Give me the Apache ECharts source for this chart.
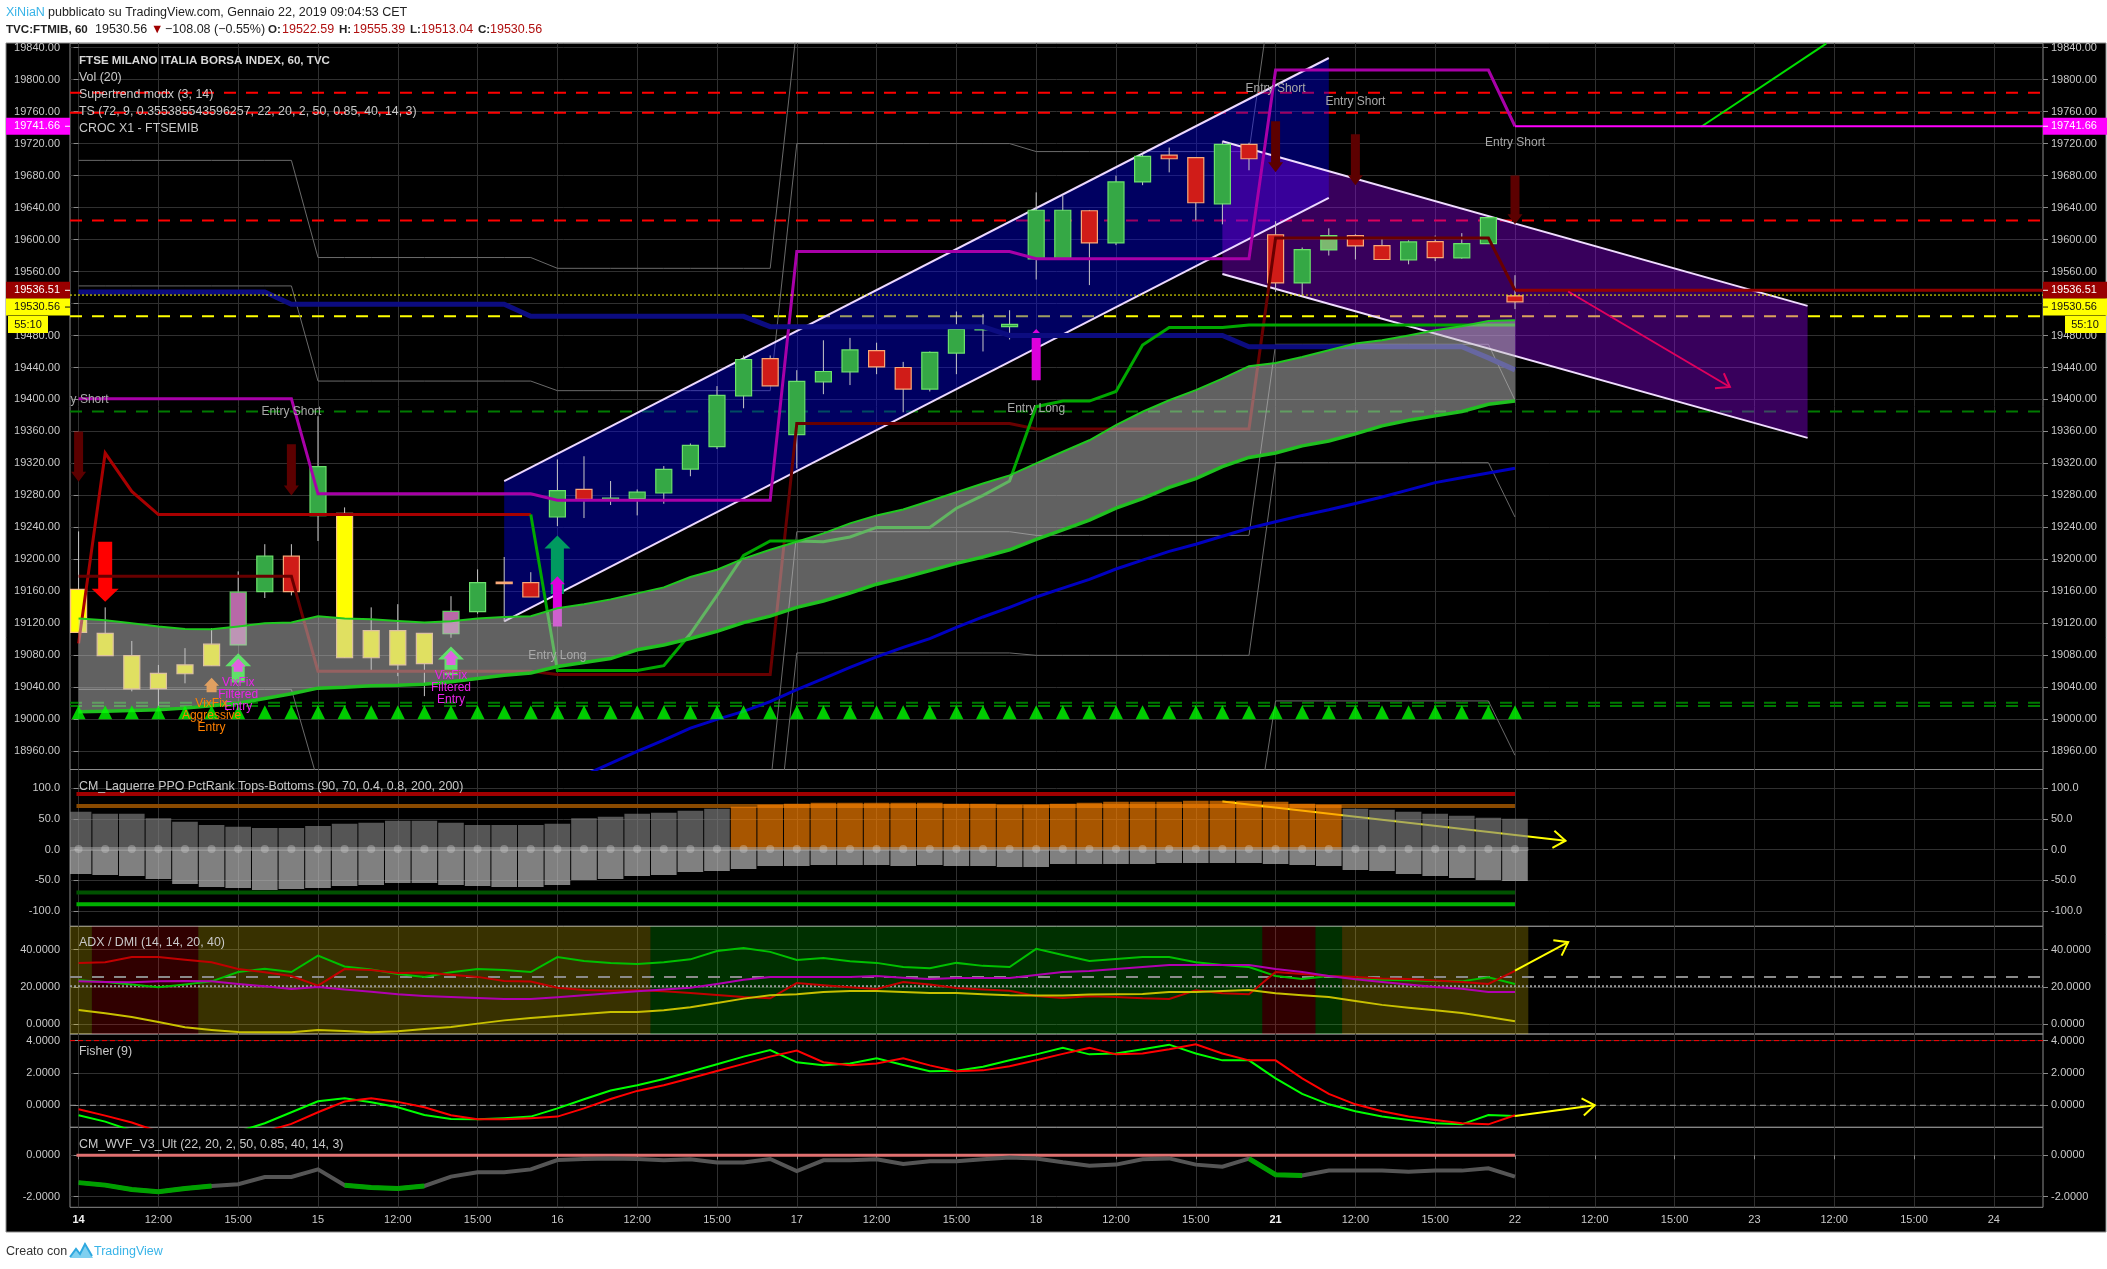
<!DOCTYPE html>
<html><head><meta charset="utf-8">
<style>html,body{margin:0;padding:0;background:#fff}#c{width:2107px;height:1269px}</style>
<script src="https://cdn.jsdelivr.net/npm/echarts@6/dist/echarts.min.js"></script>
</head><body><div id="c"></div>
<script>
// ---------- DATA ----------
const xTicks=[0,3,6,9,12,15,18,21,24,27,30,33,36,39,42,45,48,51,54,57,60,63,66,69,72];
const xTickLabels=['14','12:00','15:00','15','12:00','15:00','16','12:00','15:00','17','12:00','15:00','18','12:00','15:00','21','12:00','15:00','22','12:00','15:00','23','12:00','15:00','24'];
const boldTicks=['14','21'];
const priceTicks=[18960,19000,19040,19080,19120,19160,19200,19240,19280,19320,19360,19400,19440,19480,19520,19560,19600,19640,19680,19720,19760,19800,19840];
const lagTicks=[-100,-50,0,50,100];
const adxTicks=[0,20,40];
const fisherTicks=[0,2,4];
const wvfTicks=[-2,0];

const candleTop=[19162.5,19107.5,19079.6,19057.5,19068,19094,19159,19204,19204,19316,19257.5,19111,19111,19107.5,19135,19171,19171.6,19171,19286,19287.5,19276.5,19284,19312.5,19342.5,19405,19450,19451,19422.5,19435,19462,19461,19440,19459,19487.5,19490,19494,19636.6,19636.6,19636,19672,19704,19705.5,19702.5,19719,19719,19606,19587.5,19605,19605,19592.5,19597,19597.5,19595,19627.5,19529.5];
const candleBottom=[19108.7,19079.6,19038,19038.3,19057,19067,19093,19159.6,19159.6,19254.6,19077,19077,19068,19069.6,19107,19134.6,19170.6,19153,19253,19275,19275.5,19276,19283,19313,19341,19404.6,19417,19356,19422,19434.6,19440.7,19413,19413,19458,19487,19491,19575.7,19575.7,19595.7,19595.7,19672,19701,19646,19644.6,19701,19545.7,19545.7,19587,19592,19575,19574.6,19577.5,19577,19595,19522];
const candleHigh=[19235,19140,19098,19068,19089,19114,19185,19219,19219,19379,19265,19140,19144,19107.5,19154,19187.5,19203,19184,19325,19329,19298,19287.5,19316.7,19345,19416.7,19455,19455,19436.6,19474,19477,19471,19447,19460,19510,19507,19511.6,19659,19655,19637,19680,19707,19715,19702.5,19723,19721,19623,19590,19614,19606.6,19603,19599,19605,19608,19627.5,19555.4];
const candleLow=[19108.7,19079.6,19035,19012,19045,19067,19093,19151.7,19155,19223,19077,19059.6,19054,19029,19102,19132,19122.5,19153,19241.7,19251.7,19268,19255,19269.6,19304,19338,19389,19417,19313.7,19406.6,19418,19431.6,19384,19410,19431.6,19460,19475,19550,19575.7,19543,19593,19668,19684,19624,19619,19686.6,19534.6,19529,19580,19575,19575,19569,19573,19576,19595,19513];
const candleKind=['y','y','y','y','y','y','p','g','r','g','y','y','y','y','p','g','d','r','g','r','g','g','g','g','g','g','r','g','g','g','r','r','g','g','g','g','g','g','r','g','g','r','r','g','r','r','g','l','r','r','g','r','g','g','r'];

const cloudUpper=[19126,19124,19120,19116,19113,19112.5,19116,19120,19121,19129,19126,19125,19123,19121,19122.5,19126,19128,19129,19139,19144,19150,19157.5,19165,19178,19187,19201,19212,19222,19232.5,19245,19255,19262.5,19273,19284,19295,19305,19320,19334.6,19349,19368,19384.6,19399,19411.6,19426,19441.6,19445.6,19453,19461.6,19470,19474,19480,19486.6,19491.6,19498,19499];
const cloudLower=[19009.6,19010,19011,19012,19014,19017,19020,19026,19032,19039,19040,19042,19042.5,19044,19047,19051,19055,19058,19066,19071,19076,19087,19093,19101,19110,19121,19129,19140,19148,19158,19169,19177,19186,19195,19203,19212,19225,19237,19249,19264,19276,19290,19301,19316,19327.5,19333,19342,19348,19357,19367,19374,19379.5,19385,19394,19398];

const magentaLine=[19401,19401,19401,19401,19401,19401,19401,19401,19401,19282,19282,19282,19282,19282,19282,19282,19282,19282,19274,19274,19274,19274,19274,19274,19274,19274,19274,19585,19585,19585,19585,19585,19585,19585,19585,19585,19576,19576,19576,19576,19576,19576,19576,19576,19576,19812,19812,19812,19812,19812,19812,19812,19812,19812,19741.66];
const redStopLine=[19095,19333,19285,19256,19256,19256,19256,19256,19256,19256,19256,19256,19256,19256,19256,19256,19256,19256];
const maroonLine=[19179,19179,19179,19179,19179,19179,19179,19179,19179,19060,19060,19060,19060,19060,19060,19060,19060,19060,19056,19056,19056,19056,19056,19056,19056,19056,19056,19370,19370,19370,19370,19370,19370,19370,19370,19370,19363,19363,19363,19363,19363,19363,19363,19363,19363,19602,19602,19602,19602,19602,19602,19602,19602,19602,19536.51];
const navyLine=[19534.5,19534.5,19534.5,19534.5,19534.5,19534.5,19534.5,19534.5,19519,19519,19519,19519,19519,19519,19519,19519,19519,19504,19504,19504,19504,19504,19504,19504,19504,19504,19491,19491,19491,19491,19491,19491,19491,19491,19491,19480,19480,19480,19480,19480,19480,19480,19480,19480,19466,19466,19466,19466,19466,19466,19466,19466,19466,19452,19437];
const greenStopLine=[null,null,null,null,null,null,null,null,null,null,null,null,null,null,null,null,null,19256,19061,19061,19061,19061,19067,19107,19155,19205,19223,19223,19222,19228,19240,19240,19240,19264,19280,19298,19391,19398,19398,19410,19468,19490,19490,19490,19493,19493,19493,19493,19493,19493,19493,19493,19493,19493,19493];
const blueMaLine=[null,null,null,null,null,null,null,null,null,null,null,null,null,null,null,null,null,null,null,18930,18945,18960,18974,18989,19000,19010,19022,19037,19051,19065,19078,19090,19101,19115,19128,19140,19153,19164,19175,19188,19199,19210,19219,19229,19239,19247,19255,19262,19270,19278,19287,19296,19302,19308,19314];
const greyLine1=[19699,19699,19699,19699,19699,19699,19699,19699,19699,19577.5,19577.5,19577.5,19577.5,19577.5,19577.5,19577.5,19577.5,19577.5,19564,19564,19564,19564,19564,19564,19564,19564,19564,19866,19866,19866,19866,19866,19866,19866,19866,19866,19866,19866,19866,19866,19866,19866,19866,19866,19866,20100,20100,20100,20100,20100,20100,20100,20100,20100,20100];
const greyLine2=[19542,19542,19542,19542,19542,19542,19542,19542,19542,19423,19423,19423,19423,19423,19423,19423,19423,19423,19411,19411,19411,19411,19411,19411,19411,19411,19411,19720,19720,19720,19720,19720,19720,19720,19720,19720,19710,19710,19710,19710,19710,19710,19710,19710,19710,19947,19947,19947,19947,19947,19947,19947,19947,19947,19947];
const greyLine3=[19037.5,19037.5,19037.5,19037.5,19037.5,19037.5,19037.5,19037.5,19037.5,18922,18922,18922,18922,18922,18922,18922,18922,18922,18915,18915,18915,18915,18915,18915,18915,18915,18915,19234.6,19234.6,19234.6,19234.6,19234.6,19234.6,19234.6,19234.6,19234.6,19230,19230,19230,19230,19230,19230,19230,19230,19230,19469,19469,19469,19469,19469,19469,19469,19469,19469,19399];
const greyLine4=[18770,18770,18770,18770,18770,18770,18770,18770,18770,18770,18770,18770,18770,18770,18770,18770,18770,18770,18770,18770,18770,18770,18770,18770,18770,18770,18770,19083,19083,19083,19083,19083,19083,19083,19083,19083,19080,19080,19080,19080,19080,19080,19080,19080,19080,19321,19321,19321,19321,19321,19321,19321,19321,19321,19253];
const greyLine5=[null,null,null,null,null,null,null,null,null,null,null,null,null,null,null,null,null,null,null,null,null,null,null,null,null,null,null,18808,18808,18808,18808,18808,18808,18808,18808,18808,18808,18808,18808,18808,18808,18808,18808,18808,18808,19023,19023,19023,19023,19023,19023,19023,19023,19023,18955];

const redLevels=[19783.7,19758.7,19623.7];
const yellowLevels=[19504];
const greenLevels=[19385,19020.7,19016.7];
const lastPrice=19530.56;
const stopShort=19536.51;
const stopLong=19741.66;

const channelUpX=[16,47,47,16];
const channelUpY=[19298,19827,19652,19122.5];
const channelDownX=[43,65,65,43];
const channelDownY=[19723,19517,19352,19557];
const greenRayX=[61,65.7];
const greenRayY=[19741,19845];

// down/up arrows: bar, tail value, tip value, style key
const arrowBars=[0,8,1,18,18,36,6,14,6,14,5,45,48,54];
const arrowTail=[19360,19344,19222,19156.6,19116,19424,19046,19055,19059.6,19068,19034,19748,19731.7,19680];
const arrowTip=[19297,19280,19147,19230,19179,19488,19082.5,19091,19076,19086,19052,19684,19668,19619];
const arrowKind=['dark','dark','red','teal','mag','mag','lime','lime','magS','magS','orange','dark','dark','dark'];

const labelBars=[0,8,45,48,54,18,36,6,14,5];
const labelValues=[19400,19384.6,19789,19772,19720.7,19079.6,19388,19031,19039.6,19005];
const labelTexts=['Entry Short','Entry Short','Entry Short','Entry Short','Entry Short','Entry Long','Entry Long','VixFix\nFiltered\nEntry','VixFix\nFiltered\nEntry','VixFix\nAggressive\nEntry'];
const labelColors=['#a8a8a8','#a8a8a8','#a8a8a8','#a8a8a8','#a8a8a8','#a8a8a8','#a8a8a8','#e824e8','#e824e8','#ff8000'];

const lagTop=[61.7,58.5,58.5,51.4,45.4,40.4,37.2,35.5,35.5,38.8,42.1,43.7,47,47,43.7,40.4,40.4,40.4,42.1,51.4,53.6,58.5,60.1,63.4,66.7,69.9,73.2,74.9,76.5,76.5,76.5,76.5,76.5,74.9,74.9,73.2,73.2,74.9,76.5,78.1,78.1,78.1,79.8,79.8,79.8,78.1,74.9,73.2,66.7,65,61.7,58.5,55.2,51.9,50.3];
const lagBottom=[-39.7,-41.3,-42.9,-47.8,-56,-60.9,-62.5,-65.8,-64.1,-62.5,-59.2,-57.6,-54.3,-54.3,-57.6,-59.2,-60.9,-60.9,-57.6,-49.5,-47.8,-42.9,-41.3,-36.4,-34.8,-31.5,-26.6,-26.6,-25,-25,-25,-26.6,-25,-26.6,-26.6,-28.3,-28.3,-23.4,-23.4,-23.4,-23.4,-21.7,-21.7,-21.7,-21.7,-23.4,-25,-26.6,-33.2,-34.8,-39.7,-42.9,-46.2,-49.5,-51.1];
const lagOrangeFrom=25, lagOrangeTo=47;
const lagLevels=[90.7,71,-69.6,-89];
const lagLevelColors=['#a00000','#8a4a00','#005200','#00b000'];
const lagArrowX=[43,55.9], lagArrowY=[78.7,14.6];

const zoneEdges=[-0.323,0.5,4.5,21.5,44.5,46.5,47.5,54.5];
const zoneKinds=['o','r','o','g','r','g','o'];
const adxPlus=[23.6,22.7,21.3,19.8,21.3,23,28,29.8,28,36.8,31,29.3,27,25.4,27.9,29.6,29.1,28,36,33.9,32.9,32.3,33.2,34.8,39.3,40.9,38.8,34.5,35.5,33.8,32.9,30.7,30,32.9,31.3,30.7,40.4,37.1,33.9,35,36,36,33.2,31.8,30.7,25.9,24.3,25.9,24.8,23.9,23.6,23.2,23,25.2,21.6];
const adxMinus=[32.9,33.2,36,36,34.6,33.2,29.6,27.9,25.9,20.7,29.6,29.1,27.5,27.7,26.6,25.4,23.2,22.9,19.6,18.4,18,18.2,17.7,16.8,15.7,14.6,13.9,22.1,20.9,19.8,18.9,22.7,21.3,19.5,18.6,18,15.2,14.1,15,14.6,13.9,13.6,18.2,16.6,16.1,28,27,25.9,25.4,24.5,24.3,23.4,22.7,21.6,28.6];
const adxMain=[23,22.7,22.5,23,23.2,23,21.6,20.4,18.9,20,18.6,17.5,16.1,15.2,14.6,14.1,13.6,13.6,14.5,15.5,16.6,17.7,18.6,19.6,21.6,23.9,25.4,25.4,25.4,25.4,25.9,25,24.3,24.8,24.8,24.8,26.4,28,28.6,29.6,30.7,31.8,31.8,31.8,31.8,29.6,28,25.9,24.1,22.7,21.3,20,19.1,17.3,17.3];
const adxYellow=[7.7,5.9,3.9,1.25,-1.6,-3,-4.1,-4.3,-4.3,-3,-3.6,-4.3,-3.75,-2.5,-1.4,0.36,2.1,3.4,4.5,5.5,6.6,6.6,7.5,9.1,11.4,13.75,15.5,16.1,17.3,17.9,17.9,17.3,16.8,16.8,16.1,15.5,15.4,15.4,15.9,16.1,16.25,17.3,17.3,17.9,18.4,16.6,15.5,14.6,12.5,10.4,8.9,7.5,6.1,3.9,1.6];
const adxArrowX=[54,56], adxArrowY=[28.7,44];

const fisherFast=[-0.62,-1.01,-1.57,-1.94,-2.14,-2.04,-1.63,-1.11,-0.43,0.25,0.43,0.19,-0.12,-0.6,-0.85,-0.87,-0.8,-0.7,-0.19,0.37,0.91,1.24,1.63,2.08,2.54,3.01,3.42,2.66,2.47,2.58,2.91,2.49,2.1,2.14,2.39,2.78,3.15,3.55,3.15,3.2,3.46,3.75,3.2,2.78,2.78,1.67,0.7,0.06,-0.37,-0.7,-0.91,-1.11,-1.18,-0.6,-0.66];
const fisherSlow=[-0.25,-0.64,-1.07,-1.63,-2.04,-2.25,-2.04,-1.63,-1.15,-0.43,0.23,0.43,0.21,-0.12,-0.62,-0.87,-0.87,-0.8,-0.7,-0.19,0.39,0.89,1.24,1.67,2.12,2.56,3.01,3.38,2.66,2.47,2.58,2.91,2.47,2.1,2.16,2.41,2.78,3.18,3.55,3.15,3.2,3.46,3.77,3.2,2.78,2.78,1.67,0.7,0.06,-0.37,-0.7,-0.91,-1.11,-1.18,-0.62];
const fisherArrowX=[54,57], fisherArrowY=[-0.66,0];

const wvfLine=[-1.32,-1.44,-1.65,-1.76,-1.6,-1.48,-1.4,-1.05,-1.05,-0.68,-1.45,-1.55,-1.6,-1.48,-1.03,-0.82,-0.82,-0.68,-0.23,-0.18,-0.15,-0.18,-0.24,-0.19,-0.35,-0.35,-0.18,-0.76,-0.24,-0.24,-0.19,-0.42,-0.29,-0.29,-0.19,-0.11,-0.15,-0.34,-0.5,-0.45,-0.19,-0.15,-0.45,-0.55,-0.16,-0.94,-0.97,-0.73,-0.73,-0.74,-0.79,-0.74,-0.74,-0.63,-1.03];
const wvfGreenRanges=[[0,5],[10,13],[44,46]];

// ---------- STYLE / LAYOUT ----------
const FONT='"Liberation Sans",Arial,sans-serif';
const xMin=-0.323,xMax=73.85,lastBar=54;
const panels=[
 {top:43.3,bottom:769.5,min:18937.25,max:19845.4,ticks:priceTicks,dec:2},
 {top:769.5,bottom:926.3,min:-124.9,max:130.7,ticks:lagTicks,dec:1},
 {top:926.3,bottom:1034,min:-5.2,max:52.5,ticks:adxTicks,dec:4},
 {top:1034,bottom:1127.3,min:-1.362,max:4.41,ticks:fisherTicks,dec:4},
 {top:1127.3,bottom:1207.3,min:-2.512,max:1.353,ticks:wvfTicks,dec:4}];
const gridColor='#303030',axisColor='#8c8c8c',labelColor='#c9c9c9';
const candleStyles={
 g:{fill:'#35a845',stroke:'#6be06b'},r:{fill:'#d01c18',stroke:'#f8a878'},
 y:{fill:'#ffff00',stroke:'#f8c080'},p:{fill:'#b868a8',stroke:'#60d060'},
 l:{fill:'#7cb870',stroke:'#70e070'},d:{fill:'#f8a878',stroke:'#f8a878'}};
const arrowStyles={
 dark:{color:'#5c0000',shaft:9,head:15,len:10},red:{color:'#ff0000',shaft:14,head:27,len:13},
 teal:{color:'#009a60',shaft:13,head:26,len:13},mag:{color:'#dd00dd',shaft:9,head:15,len:8},
 lime:{color:'#00ff12',shaft:13,head:26,len:13},magS:{color:'#ff00ff',shaft:9,head:15,len:8},
 orange:{color:'#ff7e00',shaft:10,head:15,len:8}};
const zoneColors={o:'rgba(255,225,0,0.22)',r:'rgba(255,0,0,0.19)',g:'rgba(0,255,0,0.19)'};

const series=[];
const pts=a=>a.map((v,i)=>[i,v]);
function line(name,g,data,color,width,z,extra){
  series.push(Object.assign({type:'line',name,xAxisIndex:g,yAxisIndex:g*2,data,showSymbol:false,symbol:'none',silent:true,z,
    lineStyle:Object.assign({color,width,cap:'butt',join:'miter'},extra||{}),animation:false}));
}
function custom(name,g,data,renderItem,z,clip){
  series.push({type:'custom',name,xAxisIndex:g,yAxisIndex:g*2,data,renderItem,z,clip:clip!==false,silent:true,animation:false});
}
function polygon(name,g,xs,ys,fill,z){
  custom(name,g,[[xs[0],ys[0]]],(p,api)=>({type:'polygon',shape:{points:xs.map((x,k)=>api.coord([x,ys[k]]))},style:{fill}}),z);
}
function openArrow(name,g,xs,ys,color,z){
  custom(name,g,[[xs[0],ys[0]]],(p,api)=>{
    const a=api.coord([xs[0],ys[0]]),b=api.coord([xs[1],ys[1]]);
    const ang=Math.atan2(b[1]-a[1],b[0]-a[0]),L=15,w=0.62;
    return {type:'group',children:[
      {type:'polyline',shape:{points:[a,b]},style:{stroke:color,lineWidth:2,fill:'none'}},
      {type:'polyline',shape:{points:[[b[0]-L*Math.cos(ang-w),b[1]-L*Math.sin(ang-w)],b,[b[0]-L*Math.cos(ang+w),b[1]-L*Math.sin(ang+w)]]},style:{stroke:color,lineWidth:2,fill:'none'}}]};
  },z);
}
const bars=[...Array(lastBar+1).keys()];

// ---- main panel ----
redLevels.forEach((v,k)=>line('Red level '+k,0,[[xMin,v],[xMax,v]],'#ff0000',2,2,{type:[12,10]}));
yellowLevels.forEach((v,k)=>line('Yellow level '+k,0,[[xMin,v],[xMax,v]],'#ffff00',2,2,{type:[12,10]}));
greenLevels.forEach((v,k)=>line('Green level '+k,0,[[xMin,v],[xMax,v]],'#007a00',2,2,{type:[12,10]}));
[greyLine1,greyLine2,greyLine3,greyLine4,greyLine5].forEach((a,k)=>line('Channel '+k,0,pts(a),'#6a6a6a',1,2));
polygon('Channel up fill',0,channelUpX,channelUpY,'rgba(0,0,255,0.38)',3);
polygon('Channel down fill',0,channelDownX,channelDownY,'rgba(155,0,255,0.36)',3);
[[0,1],[3,2]].forEach((e,k)=>{
  line('Channel up edge '+k,0,[[channelUpX[e[0]],channelUpY[e[0]]],[channelUpX[e[1]],channelUpY[e[1]]]],'#ecd8ff',2,3);
  line('Channel down edge '+k,0,[[channelDownX[e[0]],channelDownY[e[0]]],[channelDownX[e[1]],channelDownY[e[1]]]],'#f0dcff',2,3);
});
line('Green ray',0,greenRayX.map((x,k)=>[x,greenRayY[k]]),'#00e000',2,4);
custom('FTSE MIB candles',0,candleTop.map((t,i)=>[i,t,candleBottom[i],candleHigh[i],candleLow[i]]),(p,api)=>{
  const i=api.value(0),s=candleStyles[candleKind[i]];
  const hi=api.coord([i,api.value(3)]),lo=api.coord([i,api.value(4)]);
  const a=api.coord([i,api.value(1)]),b=api.coord([i,api.value(2)]);
  const w=16,h=Math.max(b[1]-a[1],1.5);
  return {type:'group',children:[
    {type:'line',shape:{x1:hi[0],y1:hi[1],x2:lo[0],y2:lo[1]},style:{stroke:'#c8c8c8',lineWidth:1}},
    {type:'rect',shape:{x:a[0]-w/2,y:a[1],width:w,height:h},style:{fill:s.fill,stroke:s.stroke,lineWidth:1.2}}]};
},4);
custom('Signal arrows',0,arrowBars.map((b,k)=>[b,arrowTail[k],arrowTip[k],k]),(p,api)=>{
  const s=arrowStyles[arrowKind[api.value(3)]];
  const t=api.coord([api.value(0),api.value(1)]),e=api.coord([api.value(0),api.value(2)]);
  const d=e[1]>t[1]?1:-1,x=t[0];
  return {type:'polygon',shape:{points:[[x-s.shaft/2,t[1]],[x+s.shaft/2,t[1]],[x+s.shaft/2,e[1]-d*s.len],[x+s.head/2,e[1]-d*s.len],[x,e[1]],[x-s.head/2,e[1]-d*s.len],[x-s.shaft/2,e[1]-d*s.len]]},style:{fill:s.color}};
},5);
line('Trail magenta',0,pts(magentaLine),'#a800a8',3,6);
line('Trail red',0,pts(redStopLine),'#a80000',3,6);
line('Trail maroon',0,pts(maroonLine),'#680000',3,6);
line('Trail navy',0,pts(navyLine),'#0c0c80',5,6);
line('Trail green',0,pts(greenStopLine),'#00a800',3,6);
line('Blue MA',0,pts(blueMaLine),'#0000c0',3,6);
line('Stop long fwd',0,[[lastBar,stopLong],[xMax,stopLong]],'#ff00ff',2,6);
line('Stop short fwd',0,[[lastBar,stopShort],[xMax,stopShort]],'#900000',3,6);
custom('Cloud',0,[[0,cloudUpper[0]]],(p,api)=>({type:'polygon',shape:{points:cloudUpper.map((v,i)=>api.coord([i,v])).concat(cloudLower.map((v,i)=>api.coord([i,v])).reverse())},style:{fill:'rgba(194,194,194,0.5)'}}),7);
line('Cloud upper',0,pts(cloudUpper),'#20c820',2,8);
line('Cloud lower',0,pts(cloudLower),'#20c020',3.5,8);
series.push({type:'scatter',name:'Long marker',xAxisIndex:0,yAxisIndex:0,symbol:'triangle',symbolSize:[14,14],data:bars.map(i=>[i,19009]),itemStyle:{color:'#00ff00'},z:8,silent:true,animation:false});
openArrow('Target arrow',0,[56,62.08],[19535,19415.6],'#e0005e',8);
custom('Signal labels',0,labelBars.map((b,k)=>[b,labelValues[k],k]),(p,api)=>{
  const k=api.value(2),c=api.coord([api.value(0),api.value(1)]);
  return {type:'text',x:c[0],y:c[1],style:{text:labelTexts[k],fill:labelColors[k],font:'12px '+FONT,align:'center',verticalAlign:'middle',lineHeight:12}};
},9);
line('Last price',0,[[xMin,lastPrice],[xMax,lastPrice]],'#ffff00',1,9,{type:[2,2]});

// ---- Laguerre panel ----
lagLevels.forEach((v,k)=>line('Lag level '+k,1,[[-0.08,v],[lastBar,v]],lagLevelColors[k],4,2));
openArrow('Lag arrow',1,lagArrowX,lagArrowY,'#ffff00',3);
custom('Laguerre bars',1,lagTop.map((t,i)=>[i,t,lagBottom[i]]),(p,api)=>{
  const i=api.value(0),a=api.coord([i,api.value(1)]),z=api.coord([i,0]),b=api.coord([i,api.value(2)]),w=25.6;
  const up=(i>=lagOrangeFrom&&i<=lagOrangeTo)?'rgba(255,130,0,0.66)':'rgba(130,130,130,0.65)';
  return {type:'group',children:[
    {type:'rect',shape:{x:a[0]-w/2,y:a[1],width:w,height:z[1]-a[1]},style:{fill:up}},
    {type:'rect',shape:{x:a[0]-w/2,y:z[1],width:w,height:b[1]-z[1]},style:{fill:'rgba(197,197,197,0.65)'}}]};
},4);
line('Lag zero band',1,[[xMin,1],[lastBar+0.5,1]],'rgba(170,170,170,0.5)',4,5);
series.push({type:'scatter',name:'Lag dots',xAxisIndex:1,yAxisIndex:2,symbolSize:8,data:bars.map(i=>[i,1]),itemStyle:{color:'rgba(215,215,215,0.42)'},z:6,silent:true,animation:false});

// ---- ADX panel ----
custom('ADX zones',2,zoneKinds.map((k,i)=>[zoneEdges[i],i]),(p,api)=>{
  const i=api.value(1),a=api.coord([zoneEdges[i],panels[2].max]),b=api.coord([zoneEdges[i+1],panels[2].min]);
  return {type:'rect',shape:{x:a[0],y:a[1],width:b[0]-a[0],height:b[1]-a[1]},style:{fill:zoneColors[zoneKinds[i]]}};
},1);
line('ADX 25',2,[[xMin,25.4],[xMax,25.4]],'#8a8a8a',2,2,{type:[12,10]});
line('ADX 20',2,[[xMin,20.4],[xMax,20.4]],'#9a9a9a',2,2,{type:[2,2]});
line('DI plus',2,pts(adxPlus),'#00c000',2,4);
line('DI minus',2,pts(adxMinus),'#c00000',2,4);
line('ADX',2,pts(adxMain),'#b000b0',2,4);
line('ADX slow',2,pts(adxYellow),'#c8c000',2,4);
openArrow('ADX arrow',2,adxArrowX,adxArrowY,'#ffff00',5);

// ---- Fisher panel ----
line('Fisher top',3,[[xMin,4],[xMax,4]],'#ff0000',1,2,{type:[5,3]});
line('Fisher zero',3,[[xMin,0],[xMax,0]],'#9a9a9a',1,2,{type:[6,4]});
line('Fisher',3,pts(fisherFast),'#00ff00',2,4);
line('Trigger',3,pts(fisherSlow),'#ff0000',2,4);
openArrow('Fisher arrow',3,fisherArrowX,fisherArrowY,'#ffff00',5);

// ---- WVF panel ----
line('WVF zero',4,[[-0.08,0],[lastBar,0]],'#e07070',3,3);
line('WVF',4,pts(wvfLine),'#555555',4,4);
wvfGreenRanges.forEach((r,k)=>{
  const seg=[];for(let i=r[0];i<=r[1];i++)seg.push([i,wvfLine[i]]);
  line('WVF alert '+k,4,seg,'#00a000',5,5);
});

// ---- price tags (drawn through the price scale) ----
const tagValues=[stopLong,stopShort,lastPrice];
const tagFills=['#ff00ff','#990000','#ffff00'];
const tagText=['#ffffff','#ffffff','#111111'];
const tagShift=[0,0,12];
const countdown='55:10';
custom('Price tags',0,tagValues.map((v,k)=>[xMin,v,k]),(p,api)=>{
  const k=api.value(2),c=api.coord([xMin,api.value(1)]),cy=c[1]+tagShift[k],L=6,R=2043,AX=70,W=64,txt=tagValues[k].toFixed(2);
  const ch=[];
  ch.push({type:'rect',shape:{x:L,y:cy-8.5,width:W,height:17},style:{fill:tagFills[k]}});
  ch.push({type:'rect',shape:{x:R,y:cy-8.5,width:W,height:17},style:{fill:tagFills[k]}});
  ch.push({type:'text',x:60,y:cy,style:{text:txt,fill:tagText[k],font:'11px '+FONT,align:'right',verticalAlign:'middle'}});
  ch.push({type:'text',x:2051,y:cy,style:{text:txt,fill:tagText[k],font:'11px '+FONT,align:'left',verticalAlign:'middle'}});
  ch.push({type:'line',shape:{x1:AX-5,y1:cy,x2:AX,y2:cy},style:{stroke:tagText[k],lineWidth:1}});
  ch.push({type:'line',shape:{x1:R,y1:cy,x2:R+5,y2:cy},style:{stroke:tagText[k],lineWidth:1}});
  if(k===2){
    ch.push({type:'rect',shape:{x:8,y:cy+9,width:40,height:17},style:{fill:'#ffff00'}});
    ch.push({type:'rect',shape:{x:2065,y:cy+9,width:41,height:17},style:{fill:'#ffff00'}});
    ch.push({type:'text',x:28,y:cy+17.5,style:{text:countdown,fill:'#111',font:'11px '+FONT,align:'center',verticalAlign:'middle'}});
    ch.push({type:'text',x:2085,y:cy+17.5,style:{text:countdown,fill:'#111',font:'11px '+FONT,align:'center',verticalAlign:'middle'}});
  }
  return {type:'group',children:ch};
},20,false);

// ---------- AXES ----------
const grids=panels.map(p=>({left:70,width:1973,top:p.top,height:p.bottom-p.top,show:true,backgroundColor:'transparent',borderColor:axisColor,borderWidth:1}));
const xAxes=panels.map((p,g)=>({gridIndex:g,type:'value',min:xMin,max:xMax,
  axisLine:{show:false},
  axisTick:{show:g===4,customValues:xTicks,length:4,lineStyle:{color:axisColor}},
  axisLabel:{show:g===4,customValues:xTicks,margin:7,fontFamily:FONT,fontSize:11,color:labelColor,
    formatter:v=>{const t=xTickLabels[xTicks.indexOf(v)];return boldTicks.includes(t)?'{b|'+t+'}':t;},
    rich:{b:{fontFamily:FONT,fontSize:11,fontWeight:'bold',color:'#f2f2f2'}}},
  splitLine:{show:true,lineStyle:{color:gridColor,width:1}}}));
const yAxes=[];
panels.forEach((p,g)=>['left','right'].forEach(pos=>yAxes.push({gridIndex:g,type:'value',position:pos,min:p.min,max:p.max,
  axisLine:{show:false},
  axisTick:{show:true,customValues:p.ticks,length:5,lineStyle:{color:axisColor}},
  axisLabel:{show:true,customValues:p.ticks,margin:pos==='left'?10:8,fontFamily:FONT,fontSize:11,color:labelColor,formatter:v=>v.toFixed(p.dec)},
  splitLine:{show:pos==='left',lineStyle:{color:gridColor,width:1}}})));

// ---------- TEXT CHROME ----------
const txt=(x,y,text,fill,font,z)=>({type:'text',x,y,z:z||100,silent:true,style:{text,fill,font:font||('12.5px '+FONT),verticalAlign:'middle',align:'left'}});
const F=('12.5px '+FONT),B=('bold 11.6px '+FONT),T=('12.4px '+FONT),dark='#222222',blue='#39b4e8',red='#b01010',soft='#c8c8c8';
const graphic=[
 {type:'rect',z:-10,silent:true,shape:{x:6,y:43,width:2100,height:1189},style:{fill:'#000',stroke:'#8c8c8c',lineWidth:1}},
 txt(6,13,'XiNiaN',blue,F),txt(48,13,'pubblicato su TradingView.com, Gennaio 22, 2019 09:04:53 CET',dark,F),
 txt(6,30,'TVC:FTMIB, 60',dark,B),txt(95,30,'19530.56',dark,F),txt(151,30,'▼','#a00000',F),txt(165,30,'−108.08 (−0.55%)',dark,F),
 txt(268,30,'O:',dark,B),txt(282,30,'19522.59',red,F),txt(339,30,'H:',dark,B),txt(353,30,'19555.39',red,F),
 txt(410,30,'L:',dark,B),txt(421,30,'19513.04',red,F),txt(478,30,'C:',dark,B),txt(490,30,'19530.56',red,F),
 txt(79,60.7,'FTSE MILANO ITALIA BORSA INDEX, 60, TVC','#d8d8d8','bold 11.6px '+FONT),
 txt(79,77.7,'Vol (20)',soft,T),
 txt(79,95,'Supertrend modx (3, 14)',soft,T),
 txt(79,112,'TS (72, 9, 0.355385543596257, 22, 20, 2, 50, 0.85, 40, 14, 3)',soft,T),
 txt(79,129,'CROC X1 - FTSEMIB',soft,T),
 txt(79,786.7,'CM_Laguerre PPO PctRank Tops-Bottoms (90, 70, 0.4, 0.8, 200, 200)',soft,T),
 txt(79,943,'ADX / DMI (14, 14, 20, 40)',soft,T),
 txt(79,1051.7,'Fisher (9)',soft,T),
 txt(79,1144.7,'CM_WVF_V3_Ult (22, 20, 2, 50, 0.85, 40, 14, 3)',soft,T),
 txt(6,1252,'Creato con','#333',F),
 {type:'polygon',z:100,silent:true,shape:{points:[[70,1258],[76,1249],[80,1253],[85,1243],[93,1258]]},style:{fill:'#7fd0f0'}},
 {type:'polyline',z:101,silent:true,shape:{points:[[70,1257],[76,1249],[80,1254],[85,1244],[92,1256]]},style:{stroke:'#2ea8df',fill:'none',lineWidth:2}},
 txt(94,1252,'TradingView',blue,F)
];

const chart=echarts.init(document.getElementById('c'),null,{renderer:'canvas',width:2107,height:1269});
chart.setOption({animation:false,backgroundColor:'#ffffff',grid:grids,xAxis:xAxes,yAxis:yAxes,series,graphic:{elements:graphic},tooltip:{show:false},legend:{show:false}});
</script></body></html>
